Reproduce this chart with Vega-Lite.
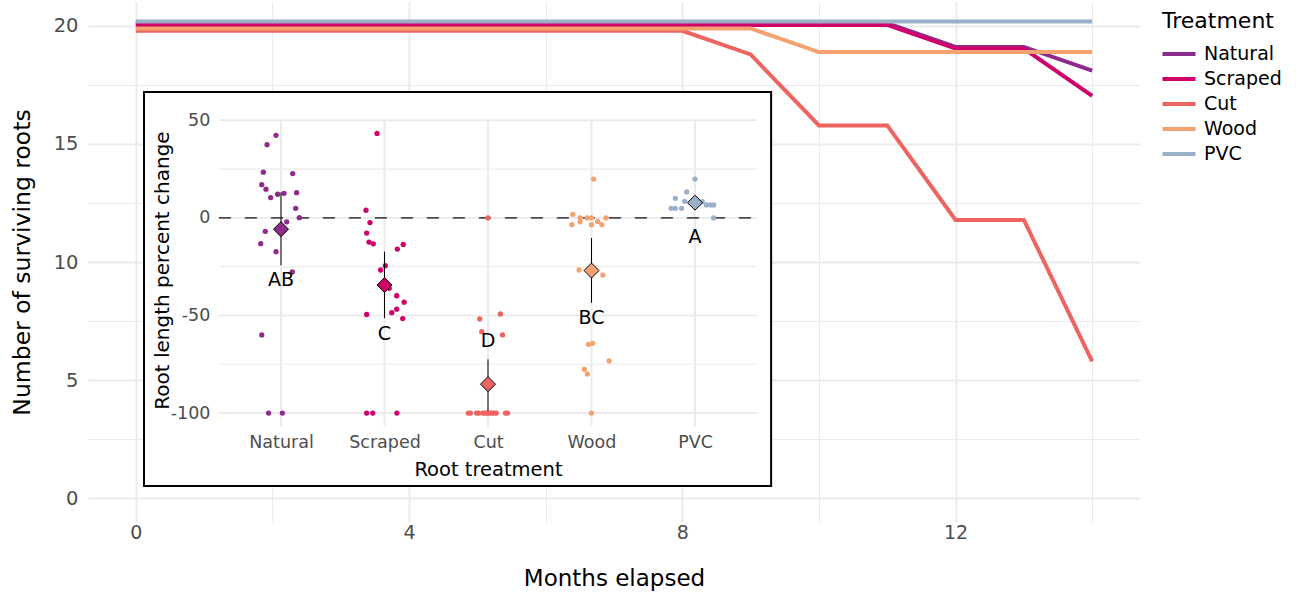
{
  "$schema": "https://vega.github.io/schema/vega-lite/v6.json",
  "width": 1052,
  "height": 520,
  "autosize": {"type": "none"},
  "padding": {"left": 88, "top": 2, "right": 156, "bottom": 72},
  "background": "white",
  "config": {
    "view": {"stroke": null},
    "font": "DejaVu Sans",
    "axis": {"domain": false, "ticks": false, "labelColor": "#4D4D4D", "titleColor": "black", "titleFontWeight": "normal", "gridColor": "#EBEBEB"},
    "legend": {"titleFontWeight": "normal"}
  },
  "datasets": {
    "survival": [
      {"treatment": "Natural", "month": 0, "roots": 20.1}, {"treatment": "Natural", "month": 1, "roots": 20.1}, {"treatment": "Natural", "month": 2, "roots": 20.1}, {"treatment": "Natural", "month": 3, "roots": 20.1}, {"treatment": "Natural", "month": 4, "roots": 20.1}, {"treatment": "Natural", "month": 5, "roots": 20.1}, {"treatment": "Natural", "month": 6, "roots": 20.1}, {"treatment": "Natural", "month": 7, "roots": 20.1}, {"treatment": "Natural", "month": 8, "roots": 20.1}, {"treatment": "Natural", "month": 9, "roots": 20.1}, {"treatment": "Natural", "month": 10, "roots": 20.1}, {"treatment": "Natural", "month": 11, "roots": 20.1}, {"treatment": "Natural", "month": 12, "roots": 19.1}, {"treatment": "Natural", "month": 13, "roots": 19.1}, {"treatment": "Natural", "month": 14, "roots": 18.1},
      {"treatment": "Scraped", "month": 0, "roots": 20.03}, {"treatment": "Scraped", "month": 1, "roots": 20.03}, {"treatment": "Scraped", "month": 2, "roots": 20.03}, {"treatment": "Scraped", "month": 3, "roots": 20.03}, {"treatment": "Scraped", "month": 4, "roots": 20.03}, {"treatment": "Scraped", "month": 5, "roots": 20.03}, {"treatment": "Scraped", "month": 6, "roots": 20.03}, {"treatment": "Scraped", "month": 7, "roots": 20.03}, {"treatment": "Scraped", "month": 8, "roots": 20.03}, {"treatment": "Scraped", "month": 9, "roots": 20.03}, {"treatment": "Scraped", "month": 10, "roots": 20.03}, {"treatment": "Scraped", "month": 11, "roots": 20.03}, {"treatment": "Scraped", "month": 12, "roots": 19.03}, {"treatment": "Scraped", "month": 13, "roots": 19.03}, {"treatment": "Scraped", "month": 14, "roots": 17.03},
      {"treatment": "Cut", "month": 0, "roots": 19.78}, {"treatment": "Cut", "month": 1, "roots": 19.78}, {"treatment": "Cut", "month": 2, "roots": 19.78}, {"treatment": "Cut", "month": 3, "roots": 19.78}, {"treatment": "Cut", "month": 4, "roots": 19.78}, {"treatment": "Cut", "month": 5, "roots": 19.78}, {"treatment": "Cut", "month": 6, "roots": 19.78}, {"treatment": "Cut", "month": 7, "roots": 19.78}, {"treatment": "Cut", "month": 8, "roots": 19.78}, {"treatment": "Cut", "month": 9, "roots": 18.78}, {"treatment": "Cut", "month": 10, "roots": 15.78}, {"treatment": "Cut", "month": 11, "roots": 15.78}, {"treatment": "Cut", "month": 12, "roots": 11.78}, {"treatment": "Cut", "month": 13, "roots": 11.78}, {"treatment": "Cut", "month": 14, "roots": 5.8},
      {"treatment": "Wood", "month": 0, "roots": 19.88}, {"treatment": "Wood", "month": 1, "roots": 19.88}, {"treatment": "Wood", "month": 2, "roots": 19.88}, {"treatment": "Wood", "month": 3, "roots": 19.88}, {"treatment": "Wood", "month": 4, "roots": 19.88}, {"treatment": "Wood", "month": 5, "roots": 19.88}, {"treatment": "Wood", "month": 6, "roots": 19.88}, {"treatment": "Wood", "month": 7, "roots": 19.88}, {"treatment": "Wood", "month": 8, "roots": 19.88}, {"treatment": "Wood", "month": 9, "roots": 19.88}, {"treatment": "Wood", "month": 10, "roots": 18.88}, {"treatment": "Wood", "month": 11, "roots": 18.88}, {"treatment": "Wood", "month": 12, "roots": 18.88}, {"treatment": "Wood", "month": 13, "roots": 18.88}, {"treatment": "Wood", "month": 14, "roots": 18.88},
      {"treatment": "PVC", "month": 0, "roots": 20.18}, {"treatment": "PVC", "month": 1, "roots": 20.18}, {"treatment": "PVC", "month": 2, "roots": 20.18}, {"treatment": "PVC", "month": 3, "roots": 20.18}, {"treatment": "PVC", "month": 4, "roots": 20.18}, {"treatment": "PVC", "month": 5, "roots": 20.18}, {"treatment": "PVC", "month": 6, "roots": 20.18}, {"treatment": "PVC", "month": 7, "roots": 20.18}, {"treatment": "PVC", "month": 8, "roots": 20.18}, {"treatment": "PVC", "month": 9, "roots": 20.18}, {"treatment": "PVC", "month": 10, "roots": 20.18}, {"treatment": "PVC", "month": 11, "roots": 20.18}, {"treatment": "PVC", "month": 12, "roots": 20.18}, {"treatment": "PVC", "month": 13, "roots": 20.18}, {"treatment": "PVC", "month": 14, "roots": 20.18}
    ],
    "box": [{"x0": 0.12, "x1": 9.3, "y0": 0.52, "y1": 17.19}],
    "ygrid": [{"v": 50}, {"v": 25}, {"v": 0}, {"v": -25}, {"v": -50}, {"v": -75}, {"v": -100}],
    "xgrid": [{"k": 1}, {"k": 2}, {"k": 3}, {"k": 4}, {"k": 5}],
    "roots": [
      {"treatment": "Natural", "pos": 0.952, "change": 42.3}, {"treatment": "Natural", "pos": 0.865, "change": 37.5}, {"treatment": "Natural", "pos": 0.829, "change": 23.4}, {"treatment": "Natural", "pos": 1.113, "change": 22.7}, {"treatment": "Natural", "pos": 0.814, "change": 17.0}, {"treatment": "Natural", "pos": 0.855, "change": 14.7}, {"treatment": "Natural", "pos": 0.968, "change": 12.1}, {"treatment": "Natural", "pos": 1.029, "change": 12.6}, {"treatment": "Natural", "pos": 1.151, "change": 12.9}, {"treatment": "Natural", "pos": 0.9, "change": 10.4}, {"treatment": "Natural", "pos": 1.142, "change": 4.9}, {"treatment": "Natural", "pos": 1.177, "change": 0.1}, {"treatment": "Natural", "pos": 1.055, "change": -2.0}, {"treatment": "Natural", "pos": 0.848, "change": -6.9}, {"treatment": "Natural", "pos": 0.804, "change": -13.2}, {"treatment": "Natural", "pos": 0.952, "change": -17.3}, {"treatment": "Natural", "pos": 1.109, "change": -27.7}, {"treatment": "Natural", "pos": 0.814, "change": -60.0}, {"treatment": "Natural", "pos": 0.88, "change": -100}, {"treatment": "Natural", "pos": 1.013, "change": -100},
      {"treatment": "Scraped", "pos": 1.928, "change": 43.3}, {"treatment": "Scraped", "pos": 1.821, "change": 3.9}, {"treatment": "Scraped", "pos": 1.86, "change": -2.4}, {"treatment": "Scraped", "pos": 1.828, "change": -7.8}, {"treatment": "Scraped", "pos": 1.85, "change": -12.4}, {"treatment": "Scraped", "pos": 1.892, "change": -13.3}, {"treatment": "Scraped", "pos": 2.181, "change": -13.6}, {"treatment": "Scraped", "pos": 2.124, "change": -16.0}, {"treatment": "Scraped", "pos": 2.008, "change": -24.5}, {"treatment": "Scraped", "pos": 1.963, "change": -26.7}, {"treatment": "Scraped", "pos": 2.046, "change": -36.1}, {"treatment": "Scraped", "pos": 2.118, "change": -39.9}, {"treatment": "Scraped", "pos": 2.19, "change": -43.2}, {"treatment": "Scraped", "pos": 2.118, "change": -46.8}, {"treatment": "Scraped", "pos": 2.07, "change": -48.6}, {"treatment": "Scraped", "pos": 1.828, "change": -49.5}, {"treatment": "Scraped", "pos": 2.176, "change": -51.6}, {"treatment": "Scraped", "pos": 1.828, "change": -100}, {"treatment": "Scraped", "pos": 1.886, "change": -100}, {"treatment": "Scraped", "pos": 2.12, "change": -100},
      {"treatment": "Cut", "pos": 3.0, "change": 0}, {"treatment": "Cut", "pos": 2.92, "change": -51.8}, {"treatment": "Cut", "pos": 3.12, "change": -49.2}, {"treatment": "Cut", "pos": 2.94, "change": -58.3}, {"treatment": "Cut", "pos": 3.14, "change": -60.0}, {"treatment": "Cut", "pos": 2.81, "change": -100}, {"treatment": "Cut", "pos": 2.83, "change": -100}, {"treatment": "Cut", "pos": 2.89, "change": -100}, {"treatment": "Cut", "pos": 2.91, "change": -100}, {"treatment": "Cut", "pos": 2.95, "change": -100}, {"treatment": "Cut", "pos": 2.97, "change": -100}, {"treatment": "Cut", "pos": 2.99, "change": -100}, {"treatment": "Cut", "pos": 3.0, "change": -100}, {"treatment": "Cut", "pos": 3.02, "change": -100}, {"treatment": "Cut", "pos": 3.04, "change": -100}, {"treatment": "Cut", "pos": 3.06, "change": -100}, {"treatment": "Cut", "pos": 3.08, "change": -100}, {"treatment": "Cut", "pos": 3.17, "change": -100}, {"treatment": "Cut", "pos": 3.19, "change": -100},
      {"treatment": "Wood", "pos": 4.02, "change": 19.9}, {"treatment": "Wood", "pos": 3.82, "change": 1.8}, {"treatment": "Wood", "pos": 4.14, "change": 0}, {"treatment": "Wood", "pos": 3.89, "change": 0}, {"treatment": "Wood", "pos": 3.96, "change": 0}, {"treatment": "Wood", "pos": 4.0, "change": 0}, {"treatment": "Wood", "pos": 3.89, "change": -2.0}, {"treatment": "Wood", "pos": 4.06, "change": -1.8}, {"treatment": "Wood", "pos": 3.81, "change": -3.5}, {"treatment": "Wood", "pos": 4.0, "change": -3.5}, {"treatment": "Wood", "pos": 4.1, "change": -3.5}, {"treatment": "Wood", "pos": 3.88, "change": -26.7}, {"treatment": "Wood", "pos": 4.11, "change": -29.3}, {"treatment": "Wood", "pos": 3.97, "change": -64.8}, {"treatment": "Wood", "pos": 4.01, "change": -64.3}, {"treatment": "Wood", "pos": 4.17, "change": -73.3}, {"treatment": "Wood", "pos": 3.93, "change": -77.6}, {"treatment": "Wood", "pos": 3.96, "change": -80.0}, {"treatment": "Wood", "pos": 4.0, "change": -100},
      {"treatment": "PVC", "pos": 5.0, "change": 19.9}, {"treatment": "PVC", "pos": 4.92, "change": 13.3}, {"treatment": "PVC", "pos": 4.81, "change": 10.0}, {"treatment": "PVC", "pos": 4.9, "change": 8.5}, {"treatment": "PVC", "pos": 5.07, "change": 8.3}, {"treatment": "PVC", "pos": 5.11, "change": 6.6}, {"treatment": "PVC", "pos": 5.15, "change": 6.6}, {"treatment": "PVC", "pos": 5.18, "change": 6.6}, {"treatment": "PVC", "pos": 4.77, "change": 4.9}, {"treatment": "PVC", "pos": 4.81, "change": 4.9}, {"treatment": "PVC", "pos": 4.87, "change": 4.9}, {"treatment": "PVC", "pos": 5.18, "change": 0}
    ],
    "summary": [
      {"treatment": "Natural", "k": 1, "mean": -5.8, "lo": -24.3, "hi": 13.1, "letter": "AB", "label_y": -31.7},
      {"treatment": "Scraped", "k": 2, "mean": -34.4, "lo": -51.4, "hi": -17.3, "letter": "C", "label_y": -59.7},
      {"treatment": "Cut", "k": 3, "mean": -85.2, "lo": -99, "hi": -72.5, "letter": "D", "label_y": -62.9},
      {"treatment": "Wood", "k": 4, "mean": -27.0, "lo": -43.5, "hi": -10.3, "letter": "BC", "label_y": -51.5},
      {"treatment": "PVC", "k": 5, "mean": 7.8, "lo": 5.3, "hi": 10.5, "letter": "A", "label_y": -9.7}
    ]
  },
  "layer": [
    {
      "layer": [
        {
          "data": {"name": "survival"},
          "mark": {"type": "line", "strokeWidth": 4},
          "encoding": {
            "x": {"field": "month", "type": "quantitative",
              "scale": {"domain": [-0.7, 14.7], "nice": false, "zero": false},
              "axis": {"values": [0, 2, 4, 6, 8, 10, 12, 14], "format": "d", "labelExpr": "datum.value % 4 === 0 ? datum.label : ''",
                "gridWidth": {"condition": {"test": "datum.value % 4 === 0", "value": 2}, "value": 1},
                "labelFontSize": 19, "labelPadding": 1, "title": "Months elapsed", "titleFontSize": 23, "titlePadding": 25}},
            "y": {"field": "roots", "type": "quantitative",
              "scale": {"domain": [-1, 21], "nice": false, "zero": false},
              "axis": {"values": [0, 2.5, 5, 7.5, 10, 12.5, 15, 17.5, 20], "labelExpr": "datum.value % 5 === 0 ? format(datum.value, 'd') : ''",
                "gridWidth": {"condition": {"test": "datum.value % 5 === 0", "value": 2}, "value": 1},
                "labelFontSize": 19.5, "labelPadding": 10, "title": "Number of surviving roots", "titleFontSize": 23.5, "titlePadding": 19}},
            "color": {"field": "treatment", "type": "nominal",
              "scale": {"domain": ["Natural", "Scraped", "Cut", "Wood", "PVC"], "range": ["#8E2A8B", "#D0006A", "#EE6461", "#F4A270", "#9AB0C9"]},
              "legend": {"title": "Treatment", "titleFontSize": 22, "titleColor": "black", "labelFontSize": 19, "labelColor": "black",
                "symbolType": "M-1.5,0L1.5,0", "symbolSize": 484, "symbolStrokeWidth": 4, "symbolOffset": 4, "labelOffset": 12,
                "rowPadding": 2, "titlePadding": 8, "padding": 9, "offset": 13}}
          }
        },
        {
          "data": {"name": "box"},
          "mark": {"type": "rect", "fill": "white", "stroke": "black", "strokeWidth": 2},
          "encoding": {
            "x": {"field": "x0", "type": "quantitative"},
            "x2": {"field": "x1"},
            "y": {"field": "y0", "type": "quantitative"},
            "y2": {"field": "y1"}
          }
        }
      ]
    },
    {
      "layer": [
        {
          "data": {"name": "ygrid"},
          "mark": {"type": "rule", "color": "#EBEBEB"},
          "encoding": {
            "y": {"field": "v", "type": "quantitative",
              "scale": {"domain": [-107, 50], "range": [424.7, 118.3], "nice": false, "zero": false},
              "axis": {"orient": "left", "offset": -130.9, "zindex": 2, "values": [50, 0, -50, -100], "grid": false,
                "labelExpr": "toString(datum.value)",
                "labelFontSize": 17.5, "labelPadding": 9, "title": "Root length percent change", "titleFontSize": 20, "titleX": -46, "titleY": 268}},
            "x": {"datum": 0.4, "type": "quantitative"},
            "x2": {"datum": 5.6},
            "strokeWidth": {"condition": {"test": "datum.v % 50 === 0", "value": 2}, "value": 1.1}
          }
        },
        {
          "data": {"name": "xgrid"},
          "mark": {"type": "rule", "color": "#EBEBEB", "strokeWidth": 2},
          "encoding": {
            "x": {"field": "k", "type": "quantitative",
              "scale": {"domain": [0.4, 5.6], "range": [130.9, 669.1], "nice": false, "zero": false},
              "axis": {"orient": "bottom", "offset": -95.3, "zindex": 2, "values": [1, 2, 3, 4, 5], "grid": false,
                "labelExpr": "['', 'Natural', 'Scraped', 'Cut', 'Wood', 'PVC'][datum.value]",
                "labelFontSize": 17.5, "labelPadding": 7, "title": "Root treatment", "titleFontSize": 19.5, "titlePadding": 9}},
            "y": {"datum": -107, "type": "quantitative"},
            "y2": {"datum": 50}
          }
        },
        {
          "data": {"values": [{}]},
          "mark": {"type": "rule", "color": "#4D4D4D", "strokeWidth": 1.6, "strokeDash": [12, 14]},
          "encoding": {
            "y": {"datum": 0, "type": "quantitative"},
            "x": {"datum": 0.4, "type": "quantitative"},
            "x2": {"datum": 5.6}
          }
        },
        {
          "data": {"name": "roots"},
          "mark": {"type": "circle", "size": 28, "opacity": 1},
          "encoding": {
            "x": {"field": "pos", "type": "quantitative"},
            "y": {"field": "change", "type": "quantitative"},
            "color": {"field": "treatment", "type": "nominal"}
          }
        },
        {
          "data": {"name": "summary"},
          "mark": {"type": "rule", "color": "black", "strokeWidth": 1},
          "encoding": {
            "x": {"field": "k", "type": "quantitative"},
            "y": {"field": "lo", "type": "quantitative"},
            "y2": {"field": "hi"}
          }
        },
        {
          "data": {"name": "summary"},
          "mark": {"type": "point", "shape": "diamond", "filled": true, "size": 225, "opacity": 1, "stroke": "black", "strokeWidth": 1},
          "encoding": {
            "x": {"field": "k", "type": "quantitative"},
            "y": {"field": "mean", "type": "quantitative"},
            "color": {"field": "treatment", "type": "nominal"}
          }
        },
        {
          "data": {"name": "summary"},
          "mark": {"type": "text", "fontSize": 19, "color": "black", "baseline": "middle", "align": "center"},
          "encoding": {
            "x": {"field": "k", "type": "quantitative"},
            "y": {"field": "label_y", "type": "quantitative"},
            "text": {"field": "letter"}
          }
        }
      ]
    }
  ],
  "resolve": {"scale": {"x": "independent", "y": "independent"}, "axis": {"x": "independent", "y": "independent"}}
}
